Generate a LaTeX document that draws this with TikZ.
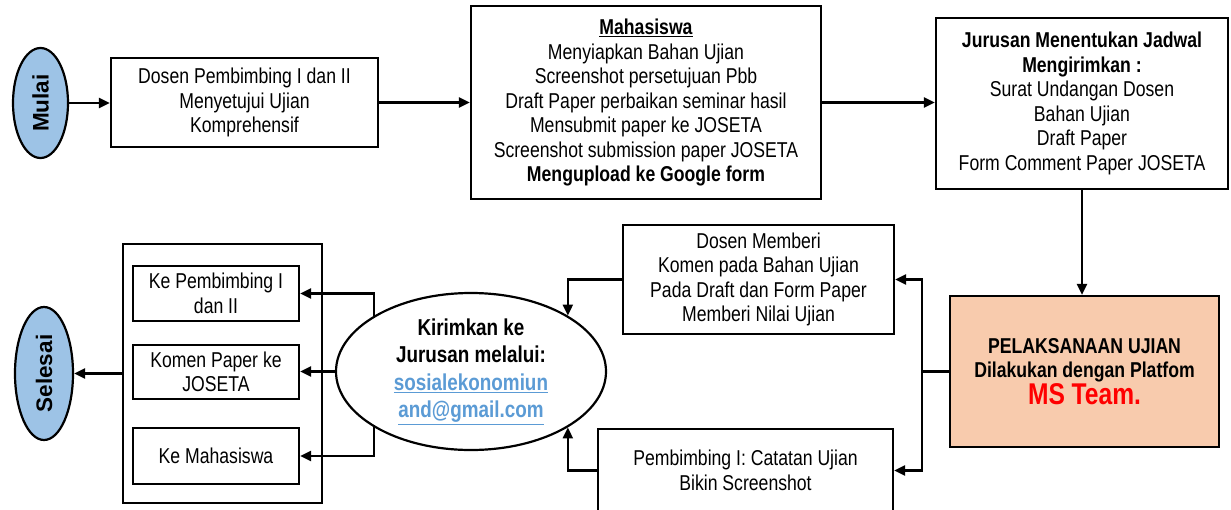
\documentclass[tikz,border=0pt]{standalone}
\usepackage{fontspec}
\usepackage{graphicx}
\setmainfont{Liberation Sans}[FakeStretch=0.82]
\newfontfamily\widefont{Liberation Sans}
\usetikzlibrary{arrows.meta,shapes.geometric,calc}
\definecolor{ovalblue}{HTML}{9DC3E6}
\definecolor{peach}{HTML}{F8CBAD}
\definecolor{linkblue}{HTML}{5B9BD5}
\definecolor{msred}{HTML}{FF0000}
\newcommand{\normsz}{\fontsize{21.5}{24.5}\selectfont}
\newcommand{\ovalsz}{\fontsize{23}{27.5}\selectfont}
\begin{document}
\begin{tikzpicture}[x=1pt,y=-1pt,
  box/.style={draw,line width=2.2pt,inner sep=0pt,align=center,font=\normsz},
  oval/.style={draw,ellipse,line width=2.2pt,inner sep=0pt,align=center},
  startend/.style={oval,fill=ovalblue,font=\widefont\bfseries\fontsize{22.5}{26}\selectfont},
  conn/.style={line width=2.2pt},
  arr/.style={conn,-{Triangle[length=11pt,width=10pt]}}]
\useasboundingbox (0,0) rectangle (1231,509);
\fill[white] (0,0) rectangle (1231,509);
\clip (0,0) rectangle (1231,509);

% top row
\node[startend,minimum width=55,minimum height=110] (mulai) at (40.5,103) {\rotatebox{90}{Mulai}};
\node[box,minimum width=267,minimum height=89] (b1) at (244.5,102.5)
  {Dosen Pembimbing I dan II\\Menyetujui Ujian\\Komprehensif};
\node[box,minimum width=350,minimum height=193] (mah) at (646,102.5)
  {\textbf{\underline{Mahasiswa}}\\Menyiapkan Bahan Ujian\\Screenshot persetujuan Pbb\\Draft Paper perbaikan seminar hasil\\Mensubmit paper ke JOSETA\\Screenshot submission paper JOSETA\\\textbf{Mengupload ke Google form}};
\node[box,minimum width=292,minimum height=171] (jur) at (1082,103.5)
  {\textbf{Jurusan Menentukan Jadwal}\\\textbf{Mengirimkan :}\\Surat Undangan Dosen\\Bahan Ujian\\Draft Paper\\Form Comment Paper JOSETA};

% right / middle
\node[box,fill=peach,minimum width=269,minimum height=151] (pel) at (1084.5,371.5)
  {\textbf{PELAKSANAAN UJIAN}\\\textbf{Dilakukan dengan Platfom}\\{\color{msred}\bfseries\fontsize{30}{34}\selectfont MS Team.}};
\node[box,minimum width=271,minimum height=109] (dos) at (758.5,279.5)
  {Dosen Memberi\\Komen pada Bahan Ujian\\Pada Draft dan Form Paper\\Memberi Nilai Ujian};
\node[box,minimum width=295,minimum height=83] (pem) at (745.5,470.5)
  {Pembimbing I: Catatan Ujian\\Bikin Screenshot};
\node[oval,minimum width=270,minimum height=157,font=\ovalsz\bfseries] (kir) at (471,371.5)
  {Kirimkan ke\\Jurusan melalui:\\{\color{linkblue}\underline{sosialekonomiun}}\\{\color{linkblue}\underline{and@gmail.com}}};

% left group
\node[box,minimum width=199,minimum height=259] (cont) at (222.5,373.5) {};
\node[box,minimum width=166,minimum height=55] (k1) at (216,293.5) {Ke Pembimbing I\\dan II};
\node[box,minimum width=166,minimum height=54] (k2) at (216,372) {Komen Paper ke\\JOSETA};
\node[box,minimum width=166,minimum height=56] (k3) at (216,456) {Ke Mahasiswa};
\node[startend,minimum width=58,minimum height=133] (sel) at (44,373.5) {\rotatebox{90}{Selesai}};

% connectors
\draw[arr] (mulai.east) -- (mulai.east -| b1.west);
\draw[arr] (b1.east) -- (b1.east -| mah.west);
\draw[arr] (mah.east) -- (mah.east -| jur.west);
\draw[arr] (jur.south) -- (jur.south |- pel.north);
\coordinate (tr) at (922,371.5);
\draw[conn] (pel.west) -- (tr);
\draw[arr] (tr) |- (dos.east);
\draw[arr] (tr) |- (pem.east);
\draw[arr] (dos.west) -| (kir.30);
\draw[arr] (pem.west) -| (kir.330);
\draw[arr] (kir.150) |- (k1.east);
\draw[arr] (kir.west) -- (kir.west -| k2.east);
\draw[arr] (kir.210) |- (k3.east);
\draw[arr] (cont.west) -- (sel.east);
\end{tikzpicture}
\end{document}
